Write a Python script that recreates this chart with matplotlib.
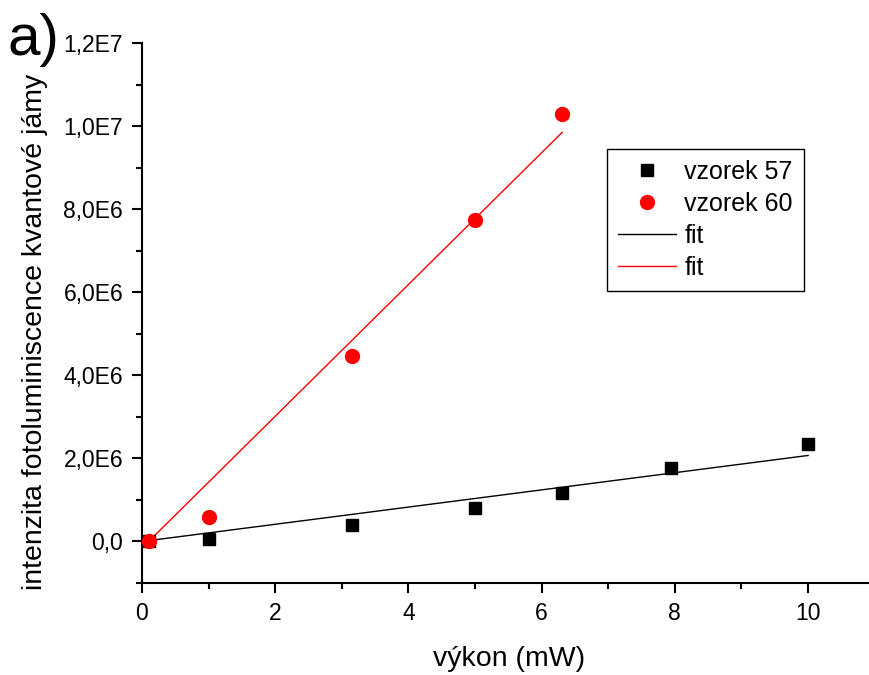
import matplotlib
matplotlib.use("Agg")
import matplotlib.pyplot as plt
from matplotlib.ticker import MultipleLocator, FixedLocator, FixedFormatter
import numpy as np

plt.rcParams['font.family'] = ['Liberation Sans', 'DejaVu Sans']

# data
x57 = [0.1, 1.0, 3.16, 5.0, 6.31, 7.94, 10.0]
y57 = [0.0, 0.05e6, 0.39e6, 0.80e6, 1.16e6, 1.76e6, 2.34e6]
x60 = [0.1, 1.0, 3.16, 5.0, 6.31]
y60 = [0.0, 0.60e6, 4.46e6, 7.73e6, 10.30e6]
fit57_x = [0.1, 10.0]
fit57_y = [0.02e6, 2.07e6]
fit60_x = [0.1, 6.31]
fit60_y = [0.0, 9.85e6]
yticks = [0, 2e6, 4e6, 6e6, 8e6, 10e6, 12e6]
ytick_labels = ["0,0", "2,0E6", "4,0E6", "6,0E6", "8,0E6", "1,0E7", "1,2E7"]
xticks = [0, 2, 4, 6, 8, 10]

fig = plt.figure(figsize=(8.7, 6.75), dpi=100)
ax = fig.add_axes([0.1632, 0.1363, 0.8345, 0.8000])

ax.plot(x57, y57, 's', color='black', markersize=9, label='vzorek 57', zorder=3)
ax.plot(x60, y60, 'o', color='red', markersize=10, label='vzorek 60', zorder=4)
ax.plot(fit57_x, fit57_y, '-', color='black', lw=1, label='fit', zorder=2)
ax.plot(fit60_x, fit60_y, '-', color='red', lw=1, label='fit', zorder=2)

ax.set_xlim(0, 10.9)
ax.set_ylim(-1.0e6, 12e6)
ax.spines['top'].set_visible(False)
ax.spines['right'].set_visible(False)
for s in ('left', 'bottom'):
    ax.spines[s].set_linewidth(1.5)

ax.xaxis.set_major_locator(FixedLocator(xticks))
ax.xaxis.set_minor_locator(MultipleLocator(1))
ax.yaxis.set_major_locator(FixedLocator(yticks))
ax.yaxis.set_major_formatter(FixedFormatter(ytick_labels))
ax.yaxis.set_minor_locator(MultipleLocator(1e6))
ax.tick_params(which='major', direction='out', length=7.5, width=1.5, labelsize=16.5)
ax.tick_params(which='minor', direction='out', length=4.5, width=1.5)
ax.tick_params(axis='y', which='major', pad=6)
ax.tick_params(axis='x', which='major', pad=6)

fig.text(509 / 870, 1 - 659 / 675, 'výkon (mW)', fontsize=20.5,
         ha='center', va='center')
fig.text(35 / 870, 1 - 332 / 675, 'intenzita fotoluminiscence kvantové jámy',
         fontsize=20.5, rotation=90, ha='center', va='center')

fig.text(8 / 870, 1 - 55 / 675, 'a)', fontsize=42, ha='left', va='baseline')

leg = ax.legend(loc='upper left', bbox_to_anchor=(0.6405, 0.8037), fontsize=18,
                frameon=True, fancybox=False, edgecolor='black', framealpha=1,
                handlelength=2.3, handletextpad=0.35, borderpad=0.45,
                labelspacing=0.32, borderaxespad=0)
leg.get_frame().set_linewidth(1)

fig.savefig('out.png', dpi=100)
